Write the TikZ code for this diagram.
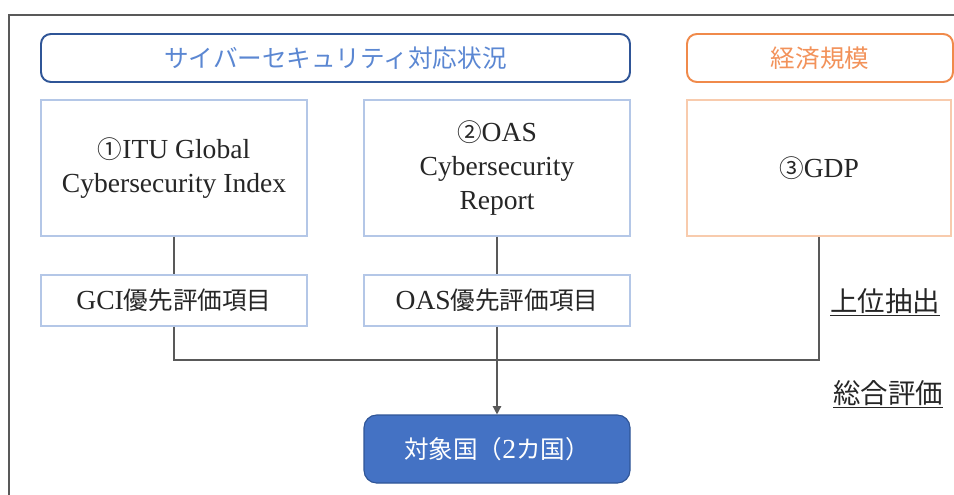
\documentclass[tikz,border=0pt]{standalone}
\usepackage{fontspec}
\setmainfont{Liberation Serif}[Scale=1.12]
\newfontfamily\cjk{Noto Sans CJK JP}
\usetikzlibrary{arrows.meta}
\definecolor{hdblue}{HTML}{2F5597}
\definecolor{hdbluetext}{HTML}{5B87D2}
\definecolor{hdorange}{HTML}{F08A4B}
\definecolor{hdorangetext}{HTML}{F2925A}
\definecolor{srcblue}{HTML}{B4C7E7}
\definecolor{srcorange}{HTML}{F8CBAD}
\definecolor{tgtblue}{HTML}{4472C4}
\definecolor{txtgray}{HTML}{262626}
\definecolor{lngray}{HTML}{595959}
\tikzset{
  bigfont/.style={font=\fontsize{17.5}{24}\selectfont},
  hdbox/.style={draw, rounded corners=7pt, line width=1.4pt, minimum height=1.2cm, bigfont},
  srcbox/.style={draw=srcblue, fill=white, line width=0.9pt, minimum width=6.65cm, minimum height=3.4cm, align=center, text=txtgray, bigfont},
  itembox/.style={draw=srcblue, fill=white, line width=0.9pt, minimum width=6.65cm, minimum height=1.275cm, text=txtgray, bigfont},
  conn/.style={draw=lngray, line width=1pt},
  sidelabel/.style={text=txtgray, font=\fontsize{19.5}{24}\selectfont},
}
\begin{document}
\begin{tikzpicture}
\useasboundingbox (0,0) rectangle (23.85,-12.35);
\clip (0,0) rectangle (23.85,-12.35);
\draw[line width=2pt, draw=lngray] (0.225,-13) -- (0.225,-0.375) -- (25,-0.375);
\node[hdbox, draw=hdblue, text=hdbluetext, minimum width=14.725cm] (cyber) at (8.3875,-1.45){\cjk サイバーセキュリティ対応状況};
\node[hdbox, draw=hdorange, text=hdorangetext, minimum width=6.65cm] (econ) at (20.5,-1.45){\cjk 経済規模};
\node[srcbox] (itu) at (4.35,-4.2){{\cjk ①}ITU Global\\Cybersecurity Index};
\node[srcbox] (oasrep) at (12.425,-4.2){{\cjk ②}OAS\\Cybersecurity\\Report};
\node[srcbox, draw=srcorange, minimum width=6.6cm] (gdp) at (20.475,-4.2){{\cjk ③}GDP};
\node[itembox] (gci) at (4.35,-7.5125){GCI{\cjk 優先評価項目}};
\node[itembox] (oas) at (12.425,-7.5125){OAS{\cjk 優先評価項目}};
\node[draw=hdblue, fill=tgtblue, text=white, rounded corners=9pt, line width=0.8pt, minimum width=6.65cm, minimum height=1.7cm, bigfont] (target) at (12.425,-11.225){{\cjk 対象国（}2{\cjk カ国）}};
\node[sidelabel] (extract) at (22.125,-7.55){\underline{\cjk 上位抽出}};
\node[sidelabel] (overall) at (22.2,-9.85){\underline{\cjk 総合評価}};
\coordinate (j1) at (4.35,-9);
\draw[conn](itu) -- (gci);
\draw[conn](gci) -- (j1) -| (gdp);
\draw[conn](oasrep) -- (oas);
\draw[conn, -{Triangle[length=6pt, width=6pt]}](oas) -- (target);
\end{tikzpicture}
\end{document}
